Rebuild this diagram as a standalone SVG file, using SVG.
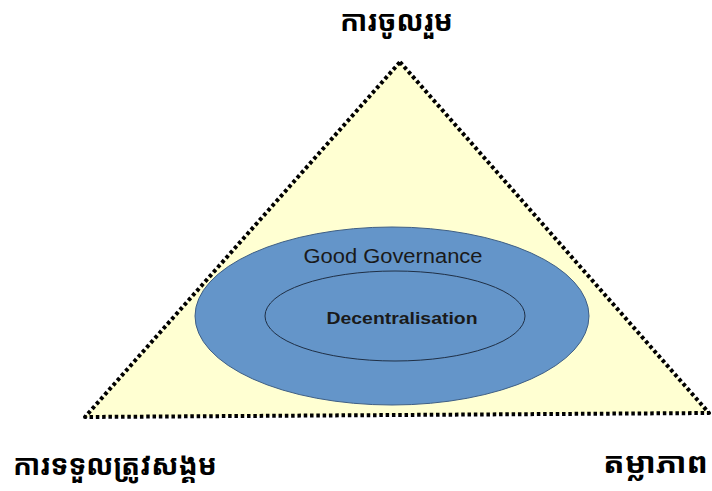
<svg xmlns="http://www.w3.org/2000/svg" width="712" height="491" viewBox="0 0 712 491">
<style>
.khm{font-family:"Noto Sans Khmer","Khmer OS","Noto Sans","DejaVu Sans",sans-serif;font-size:29px;font-weight:bold;fill:#000}
.lat{font-family:"Liberation Sans",Arial,sans-serif;fill:#1a1a1a}
</style>
<rect width="712" height="491" fill="#ffffff"/>
<g id="triangle">
<polygon points="400,62 709,413 85,417" fill="#ffffd2" stroke="#000" stroke-width="4" stroke-dasharray="3.5 2.8" stroke-linejoin="round"/>
</g>
<g id="good-governance">
<ellipse cx="392" cy="316" rx="197" ry="89" fill="#6495c9" stroke="#3f5f85" stroke-width="1"/>
<text class="lat" x="393" y="263" font-size="20" text-anchor="middle" textLength="179" lengthAdjust="spacingAndGlyphs">Good Governance</text>
</g>
<g id="decentralisation">
<ellipse cx="395" cy="316" rx="130" ry="45" fill="none" stroke="#1f2f45" stroke-width="1"/>
<text class="lat" x="402" y="324" font-size="16.5" font-weight="bold" text-anchor="middle" textLength="151" lengthAdjust="spacingAndGlyphs">Decentralisation</text>
</g>
<g id="label-top"><text class="khm" x="340" y="31" textLength="113" lengthAdjust="spacingAndGlyphs">ការចូលរួម</text></g>
<g id="label-left"><text class="khm" x="13" y="475" textLength="204" lengthAdjust="spacingAndGlyphs">ការទទួលត្រូវសង្គម</text></g>
<g id="label-right"><text class="khm" x="603" y="473" textLength="105" lengthAdjust="spacingAndGlyphs">តម្លាភាព</text></g>
<g id="connectors"></g>
</svg>
